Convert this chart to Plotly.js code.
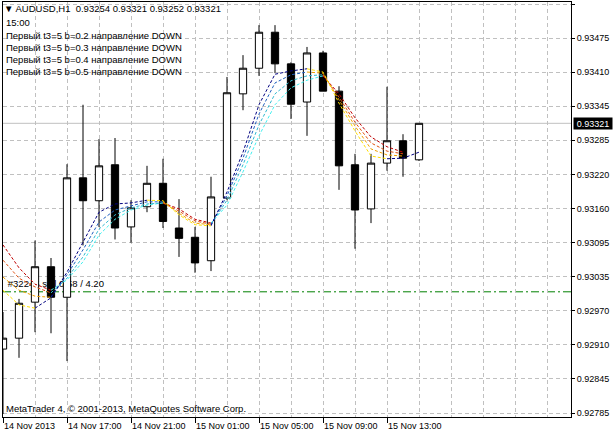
<!DOCTYPE html>
<html><head><meta charset="utf-8">
<script src="https://cdn.plot.ly/plotly-3.0.1.min.js"></script>
<style>html,body{margin:0;padding:0;background:#fff;overflow:hidden}#chart{width:614px;height:435px}</style>
</head><body><div id="chart"></div>
<script>
// ---- data ----
const times = ["14 Nov 13:00","14 Nov 14:00","14 Nov 15:00","14 Nov 16:00","14 Nov 17:00","14 Nov 18:00","14 Nov 19:00","14 Nov 20:00","14 Nov 21:00","14 Nov 22:00","14 Nov 23:00","15 Nov 00:00","15 Nov 01:00","15 Nov 02:00","15 Nov 03:00","15 Nov 04:00","15 Nov 05:00","15 Nov 06:00","15 Nov 07:00","15 Nov 08:00","15 Nov 09:00","15 Nov 10:00","15 Nov 11:00","15 Nov 12:00","15 Nov 13:00","15 Nov 14:00","15 Nov 15:00"];
const openP  = [0.92907,0.92927,0.92993,0.93058,0.93002,0.93221,0.93179,0.93245,0.93131,0.93168,0.93211,0.93129,0.93112,0.93069,0.93184,0.93375,0.93422,0.93488,0.93430,0.93360,0.93450,0.93380,0.93245,0.93164,0.93248,0.93289,0.93254];
const highP  = [0.92975,0.92999,0.93106,0.93074,0.93246,0.93355,0.93292,0.93294,0.93180,0.93243,0.93256,0.93182,0.93131,0.93223,0.93406,0.93446,0.93501,0.93501,0.93433,0.93461,0.93454,0.93389,0.93265,0.93265,0.93388,0.93301,0.93321];
const lowP   = [0.92788,0.92891,0.92938,0.92936,0.92885,0.93097,0.93131,0.93108,0.93102,0.93158,0.93129,0.93076,0.93047,0.93050,0.93180,0.93345,0.93408,0.93413,0.93329,0.93298,0.93380,0.93199,0.93091,0.93138,0.93234,0.93223,0.93252];
const closeP = [0.92927,0.92991,0.93058,0.93002,0.93221,0.93179,0.93243,0.93129,0.93166,0.93211,0.93141,0.93110,0.93065,0.93186,0.93377,0.93422,0.93488,0.93430,0.93356,0.93450,0.93380,0.93243,0.93162,0.93248,0.93289,0.93257,0.93321];

const t3b02 = [0.93015,0.92988,0.92982,0.93001,0.93048,0.93102,0.93158,0.93173,0.93175,0.93180,0.93179,0.93153,0.93135,0.93133,0.93195,0.93268,0.93355,0.93411,0.93417,0.93421,0.93415,0.93358,0.93307,0.93261,0.93256,0.93257,0.93268];
const t3b03 = [0.93039,0.93015,0.93004,0.93002,0.93043,0.93089,0.93140,0.93162,0.93169,0.93177,0.93177,0.93156,0.93138,0.93135,0.93188,0.93257,0.93338,0.93395,0.93410,0.93415,0.93413,0.93364,0.93316,0.93274,0.93263,0.93261,null];
const t3b04 = [0.93070,0.93037,0.93021,0.93010,0.93037,0.93076,0.93127,0.93153,0.93166,0.93173,0.93175,0.93160,0.93142,0.93136,0.93180,0.93245,0.93318,0.93375,0.93399,0.93408,0.93410,0.93369,0.93323,0.93285,0.93270,0.93265,null];
const t3b05 = [0.93098,0.93056,0.93026,0.93015,0.93034,0.93067,0.93116,0.93145,0.93162,0.93171,0.93175,0.93164,0.93145,0.93138,0.93171,0.93232,0.93298,0.93355,0.93386,0.93400,0.93408,0.93375,0.93331,0.93296,0.93278,0.93268,null];

const xTickIdx  = [0,4,8,12,16,20,24];
const xTickText = ["14 Nov 2013","14 Nov 17:00","14 Nov 21:00","15 Nov 01:00","15 Nov 05:00","15 Nov 09:00","15 Nov 13:00"];
const yTickText = ["0.93535","0.93475","0.93410","0.93345","0.93285","0.93220","0.93160","0.93095","0.93035","0.92970","0.92910","0.92845","0.92785"];

const bidPrice = 0.93321;
const orderPrice = 0.93012;
const orderText = "#32245 sell 0.58 / 4.20";
const header = "▼ AUDUSD,H1  0.93254 0.93321 0.93252 0.93321";
const subHeader = "15:00";
const infoLines = ["Первый t3=5 b=0.2 направление DOWN","Первый t3=5 b=0.3 направление DOWN","Первый t3=5 b=0.4 направление DOWN","Первый t3=5 b=0.5 направление DOWN"];
const copyright = "MetaTrader 4, © 2001-2013, MetaQuotes Software Corp.";

// ---- geometry helpers (plot area pixels) ----
const W = 614, H = 435, L = 3, R = 43, T = 2, B = 18;
const pw = W - L - R, ph = H - T - B;
const px = x => (x - L) / pw;
const py = y => (H - B - y) / ph;
const yTop = 0.9354343, yBot = 0.9278244;
const yTickVals = yTickText.map((_, k) => 0.9353976 - k * 0.000625);
const xIdx = times.map((_, i) => i);

const FONT = "Liberation Sans, Arial, sans-serif";
const traces = [];

// order label text (under candles)
traces.push({type:'scatter', mode:'text', x:[0.3], y:[0.930245], text:[orderText],
  textposition:'middle right', textfont:{family:FONT, size:9.5, color:'#000'},
  xaxis:'x', yaxis:'y', hoverinfo:'skip', showlegend:false, cliponaxis:false});

// candles
traces.push({type:'candlestick', x:xIdx, open:openP, high:highP, low:lowP, close:closeP,
  xaxis:'x2', yaxis:'y2', whiskerwidth:0,
  increasing:{line:{color:'#000', width:1}, fillcolor:'#ffffff'},
  decreasing:{line:{color:'#000', width:1}, fillcolor:'#000000'},
  hoverinfo:'skip', showlegend:false});

// T3 lines, coloured by slope
const series = [t3b05, t3b04, t3b03, t3b02];
const upCol = ['#40f0f0', '#30b8d0', '#2060c0', '#000080'];
const dnCol = ['#c00000', '#e05010', '#f0a000', '#ffe000'];
series.forEach((s, k) => {
  ['up','dn'].forEach(dir => {
    const xs = [], ys = [];
    let open = false;
    for (let i = 1; i < s.length; i++) {
      if (s[i] == null || s[i-1] == null) { open = false; continue; }
      const isUp = s[i] >= s[i-1];
      if ((dir === 'up') === isUp) {
        if (!open) { if (xs.length) { xs.push(null); ys.push(null); } xs.push(i-1); ys.push(s[i-1]); open = true; }
        xs.push(i); ys.push(s[i]);
      } else open = false;
    }
    traces.push({type:'scatter', mode:'lines', x:xs, y:ys, xaxis:'x2', yaxis:'y2',
      line:{color: dir === 'up' ? upCol[k] : dnCol[k], width:1, dash:'3px,2px'},
      connectgaps:false, hoverinfo:'skip', showlegend:false});
  });
});

const grid = '#c0c0c0';
const annFont = {family:FONT, size:9.5, color:'#000'};
const ann = (text, x, y, extra) => Object.assign({text, xref:'paper', yref:'paper', x:px(x), y:py(y),
  xanchor:'left', yanchor:'middle', showarrow:false, font:annFont, borderpad:0}, extra || {});

const annotations = [
  ann(header, 3, 9),
  ann(subHeader, 5, 22),
  ...infoLines.map((t, i) => ann(t, 5, 35 + 12 * i)),
  ann(copyright, 5, 408),
  {text: bidPrice.toFixed(5), xref:'paper', yref:'y', x:px(573), y:bidPrice, xanchor:'left', yanchor:'middle',
   showarrow:false, bgcolor:'#000', font:{family:FONT, size:9, color:'#fff'}, width:38, height:11, borderpad:0, align:'center'}
];

const layout = {
  width:W, height:H, margin:{l:L, r:R, t:T, b:B, pad:0},
  paper_bgcolor:'#fff', plot_bgcolor:'#fff', showlegend:false, boxgap:0.35,
  font:{family:FONT, size:9, color:'#000'},
  xaxis:{range:[0, pw/16], tickmode:'array', tickvals:xTickIdx, ticktext:xTickText,
    ticks:'outside', ticklen:5, tickcolor:'#000', ticklabelposition:'outside right',
    tickfont:{family:FONT, size:9, color:'#000'},
    showline:true, linecolor:'#000', linewidth:1, mirror:true,
    showgrid:true, gridcolor:grid, griddash:'4px,3px', zeroline:false,
    minor:{tickmode:'linear', tick0:0, dtick:2, showgrid:true, gridcolor:grid, griddash:'4px,3px', ticks:''},
    rangeslider:{visible:false}, fixedrange:true},
  yaxis:{range:[yBot, yTop], side:'right', tickmode:'array', tickvals:yTickVals, ticktext:yTickText,
    ticks:'outside', ticklen:3, tickcolor:'#000', tickfont:{family:FONT, size:9, color:'#000'},
    showline:true, linecolor:'#000', linewidth:1, mirror:true,
    showgrid:true, gridcolor:grid, griddash:'4px,3px', zeroline:false, fixedrange:true},
  xaxis2:{range:[0, pw/16], overlaying:'x', visible:false, rangeslider:{visible:false}, fixedrange:true},
  yaxis2:{range:[yBot, yTop], overlaying:'y', visible:false, fixedrange:true},
  shapes:[
    {type:'line', xref:'paper', x0:0, x1:1, yref:'y', y0:bidPrice, y1:bidPrice, layer:'below', line:{color:'#c0c0c0', width:1}},
    {type:'line', xref:'paper', x0:0, x1:1, yref:'y', y0:orderPrice, y1:orderPrice, layer:'below', line:{color:'#008000', width:1, dash:'8px,3px,2px,3px'}}
  ],
  annotations
};

Plotly.newPlot('chart', traces, layout, {displayModeBar:false, staticPlot:true});
</script></body></html>
